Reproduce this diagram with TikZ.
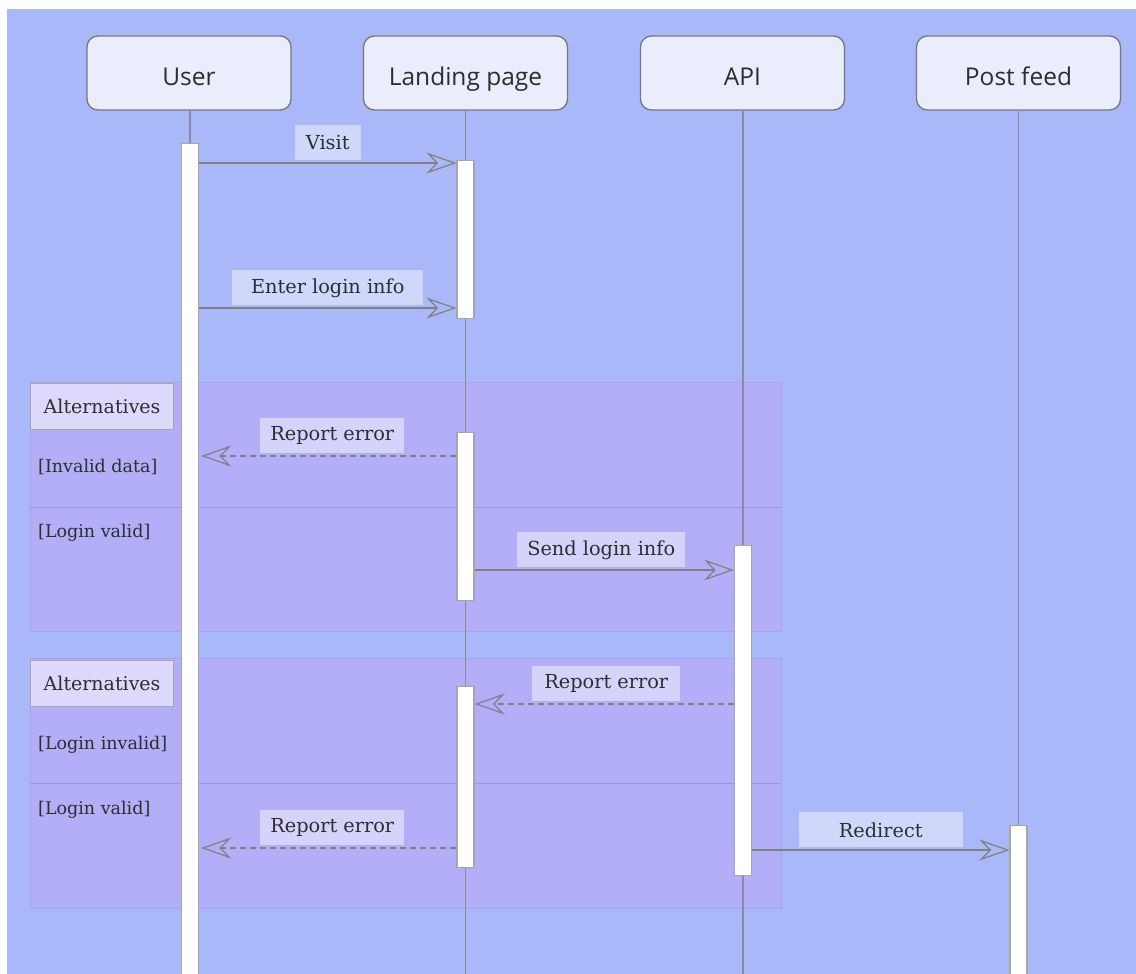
\documentclass[tikz,border=0pt]{standalone}
\usepackage{fontspec}
\setmainfont{DejaVu Serif}
\newfontfamily\partfont{Open Sans}
\usetikzlibrary{arrows.meta,calc}
\definecolor{bgc}{HTML}{A8B8F8}
\definecolor{altc}{HTML}{B3AEF8}
\definecolor{altline}{HTML}{A8A3EE}
\definecolor{divline}{HTML}{9C97DA}
\definecolor{partfill}{HTML}{EAEEFC}
\definecolor{partdraw}{HTML}{777777}
\definecolor{lifec}{HTML}{8A8C9E}
\definecolor{txt}{HTML}{2E2E2E}
\definecolor{tagfill}{HTML}{DCD9FC}
\definecolor{arrc}{HTML}{808080}
\definecolor{actdraw}{HTML}{A6A6A6}
\tikzset{
  part/.style={draw=partdraw, line width=1.3pt, fill=partfill, rounded corners=11pt,
    minimum width=204pt, minimum height=74pt, text height=25pt, text depth=0pt,
    font=\partfont\fontsize{24.5}{28}\selectfont, text=txt},
  life/.style={draw=lifec, line width=1.3pt},
  actbar/.style={draw=actdraw, line width=1.2pt, fill=white, minimum width=17pt, inner sep=0pt, anchor=north},
  msg/.style={draw=arrc, line width=1.2pt, -{Stealth[open, length=30pt, width=21pt, inset=10pt, line width=1.2pt]}},
  reply/.style={msg, dash pattern=on 6pt off 4pt},
  lbl/.style={fill=white, fill opacity=0.45, text opacity=1, text=txt, inner xsep=10pt, inner ysep=0pt,
    minimum height=35pt, font=\fontsize{19.3}{23}\selectfont, anchor=south, yshift=2pt},
  altframe/.style={fill=altc, draw=altline, line width=0.8pt},
  altdiv/.style={draw=divline, line width=1pt},
  alttag/.style={draw=actdraw, line width=1.2pt, fill=tagfill, minimum width=143pt, minimum height=46pt,
    inner sep=0pt, anchor=north west, font=\fontsize{19}{22}\selectfont, text=txt},
  guard/.style={anchor=west, inner sep=0pt, font=\fontsize{17.5}{21}\selectfont, text=txt},
}
\begin{document}
\begin{tikzpicture}[x=1pt, y=-1pt]
\useasboundingbox (0,0) rectangle (1136,974);
\fill[white] (0,0) rectangle (1136,974);
\fill[bgc] (7,9) rectangle (1136,974);

% alt frames
\draw[altframe] (30,382) rectangle (781,631);
\draw[altdiv] (30,507) -- (781,507);
\node[alttag] (tag1) at (30,383) {Alternatives};
\node[guard] (g1) at (38,467) {[Invalid data]};
\node[guard] (g2) at (38,533) {[Login valid]};

\draw[altframe] (30,658) rectangle (781,908);
\draw[altdiv] (30,783) -- (781,783);
\node[alttag] (tag2) at (30,660) {Alternatives};
\node[guard] (g3) at (38,745) {[Login invalid]};
\node[guard] (g4) at (38,810) {[Login valid]};

% participants
\node[part] (user) at (189,73) {User};
\node[part] (land) at (465.5,73) {Landing page};
\node[part] (api) at (742.5,73) {API};
\node[part] (feed) at (1018.5,73) {Post feed};

\coordinate (userend) at (190,980);
\coordinate (landend) at (465.5,980);
\coordinate (apiend) at (743,980);
\coordinate (feedend) at (1018.5,980);
\draw[life] (user.south -| userend) -- (userend);
\draw[life] (land.south -| landend) -- (landend);
\draw[life] (api.south -| apiend) -- (apiend);
\draw[life] (feed.south -| feedend) -- (feedend);

% activation bars
\node[actbar, minimum height=840pt] (ua) at (190,143) {};
\node[actbar, minimum height=158pt] (la1) at (465.5,160) {};
\node[actbar, minimum height=168pt] (la2) at (465.5,432) {};
\node[actbar, minimum height=181pt] (la3) at (465.5,686) {};
\node[actbar, minimum height=330pt] (aa) at (743,545) {};
\node[actbar, minimum height=160pt] (pa) at (1018.5,825) {};

% message levels
\coordinate (m1) at (0,163);
\coordinate (m2) at (0,308);
\coordinate (m3) at (0,456);
\coordinate (m4) at (0,570);
\coordinate (m5) at (0,704);
\coordinate (m6) at (0,848);
\coordinate (m7) at (0,850);

\draw[msg] (ua.east |- m1) -- node[lbl, inner xsep=11pt] {Visit} (la1.west |- m1);
\draw[msg] (ua.east |- m2) -- node[lbl, inner xsep=19pt] {Enter login info} (la1.west |- m2);
\draw[reply] (la2.west |- m3) -- node[lbl, xshift=3.5pt] {Report error} ($(ua.east |- m3)+(2,0)$);
\draw[msg] (la2.east |- m4) -- node[lbl, xshift=-3pt] {Send login info} (aa.west |- m4);
\draw[reply] (aa.west |- m5) -- node[lbl, xshift=2pt, inner xsep=12pt] {Report error} (la3.east |- m5);
\draw[reply] (la3.west |- m6) -- node[lbl, xshift=3.5pt] {Report error} ($(ua.east |- m6)+(2,0)$);
\draw[msg] (aa.east |- m7) -- node[lbl, inner xsep=40pt] {Redirect} (pa.west |- m7);
\end{tikzpicture}
\end{document}
